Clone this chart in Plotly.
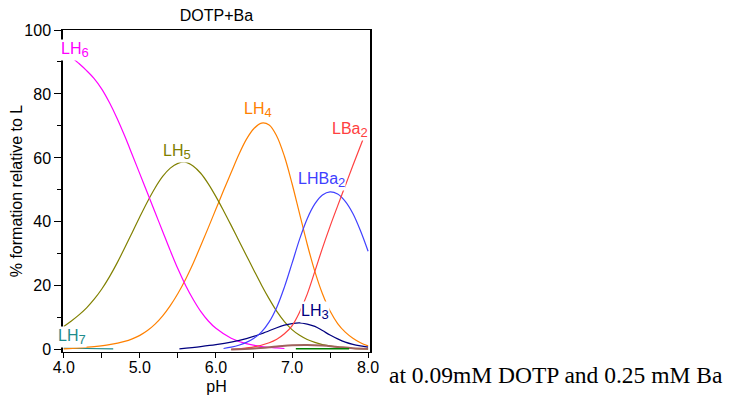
import plotly.graph_objects as go

# ---- data ----
LH6_pH = [4.0, 4.1, 4.2, 4.3, 4.4, 4.5, 4.6, 4.7, 4.8, 4.9, 5.0, 5.1, 5.2, 5.3, 5.4, 5.5, 5.6, 5.7, 5.8, 5.9, 6.0, 6.2, 6.4, 6.6, 6.8, 6.9]
LH6 = [93.0, 91.5, 89.5, 87.3, 84.8, 81.5, 77.3, 72.4, 66.9, 61.0, 55.0, 49.0, 43.0, 37.0, 31.0, 25.3, 20.2, 15.8, 12.0, 9.0, 6.7, 3.6, 1.9, 1.0, 0.6, 0.4]

LH5_pH = [4.0, 4.1, 4.2, 4.3, 4.4, 4.5, 4.6, 4.7, 4.8, 4.9, 5.0, 5.1, 5.2, 5.3, 5.4, 5.5, 5.6, 5.7, 5.8, 5.9, 6.0, 6.1, 6.2, 6.3, 6.4, 6.5, 6.6, 6.7, 6.8, 6.9, 7.0, 7.1, 7.2, 7.3, 7.4, 7.6, 7.8, 8.0]
LH5 = [7.3, 9.0, 10.9, 13.1, 15.8, 19.0, 22.8, 27.1, 31.8, 36.7, 41.6, 46.3, 50.6, 54.2, 56.8, 58.3, 58.7, 57.5, 55.2, 51.9, 47.9, 43.5, 38.9, 34.2, 29.5, 24.8, 20.2, 15.9, 12.0, 8.8, 6.3, 4.5, 3.2, 2.3, 1.6, 0.8, 0.4, 0.2]

LH4_pH = [4.0, 4.2, 4.4, 4.6, 4.8, 4.9, 5.0, 5.1, 5.2, 5.3, 5.4, 5.5, 5.6, 5.7, 5.8, 5.9, 6.0, 6.1, 6.2, 6.3, 6.4, 6.5, 6.6, 6.7, 6.8, 6.9, 7.0, 7.1, 7.2, 7.3, 7.4, 7.5, 7.6, 7.7, 7.8, 7.9, 8.0]
LH4 = [0.3, 0.6, 1.0, 1.6, 2.6, 3.4, 4.5, 6.0, 8.0, 10.6, 13.8, 17.6, 22.0, 27.0, 32.5, 38.2, 44.0, 49.8, 55.4, 61.0, 65.8, 69.2, 70.9, 70.3, 66.8, 60.5, 52.0, 42.5, 33.0, 24.5, 17.5, 12.1, 8.2, 5.5, 3.6, 2.2, 1.2]

LHBa2_pH = [6.1, 6.2, 6.3, 6.4, 6.5, 6.6, 6.7, 6.8, 6.9, 7.0, 7.1, 7.2, 7.3, 7.4, 7.5, 7.6, 7.7, 7.8, 7.9, 8.0]
LHBa2 = [0.4, 0.8, 1.4, 2.3, 3.6, 5.6, 8.7, 13.3, 19.6, 27.0, 34.6, 41.0, 45.6, 48.4, 49.4, 48.7, 46.4, 42.6, 37.2, 30.8]

LBa2_pH = [6.2, 6.3, 6.5, 6.7, 6.8, 6.9, 7.0, 7.1, 7.2, 7.3, 7.4, 7.5, 7.6, 7.7, 7.8, 7.93]
LBa2 = [0.1, 0.3, 0.9, 2.2, 3.3, 5.0, 7.5, 11.8, 17.4, 24.5, 31.8, 38.6, 45.0, 51.3, 57.6, 65.6]

LH3_pH = [5.52, 5.8, 6.0, 6.2, 6.4, 6.6, 6.8, 6.9, 7.0, 7.1, 7.2, 7.3, 7.4, 7.5, 7.6, 7.7, 7.8, 7.9, 8.0]
LH3 = [0.3, 1.0, 1.6, 2.4, 3.5, 5.0, 6.9, 7.7, 8.2, 8.4, 8.0, 7.3, 6.0, 4.6, 3.4, 2.4, 1.7, 1.2, 0.8]

LH7_pH = [4.0, 4.3, 4.65]
LH7 = [0.5, 0.4, 0.3]

minor_brown_pH = [6.2, 6.5, 6.8, 7.0, 7.2, 7.4, 7.6, 7.8, 8.0]
minor_brown = [0.1, 0.4, 1.0, 1.4, 1.5, 1.3, 0.9, 0.5, 0.3]

minor_green_pH = [7.05, 7.4, 7.75]
minor_green = [0.3, 0.3, 0.3]

x_ticks = [4.0, 5.0, 6.0, 7.0, 8.0]
x_tick_text = ["4.0", "5.0", "6.0", "7.0", "8.0"]
y_ticks = [0, 20, 40, 60, 80, 100]

series = [
    ("LH7", LH7_pH, LH7, "#1E8C8C", 1.2),
    ("LH4", LH4_pH, LH4, "#FF8000", 1.2),
    ("LH5", LH5_pH, LH5, "#808000", 1.2),
    ("LH6", LH6_pH, LH6, "#FF00FF", 1.2),
    ("LH3", LH3_pH, LH3, "#00007F", 1.2),
    ("LHBa2", LHBa2_pH, LHBa2, "#4040FF", 1.2),
    ("LBa2", LBa2_pH, LBa2, "#FF4040", 1.2),
    ("brown", minor_brown_pH, minor_brown, "#A0625C", 2.0),
    ("green", minor_green_pH, minor_green, "#008000", 1.5),
]

FONT = "Arial, Liberation Sans, sans-serif"

# page body has an 8px default margin; figure is sized so it fits the 731x410 window
W, H = 723, 402

fig = go.Figure()
for name, xs, ys, col, w in series:
    fig.add_trace(go.Scatter(x=xs, y=ys, mode="lines", name=name,
                             line=dict(color=col, width=w, shape="spline", smoothing=1.0),
                             showlegend=False, hoverinfo="skip"))


def lab(base, sub):
    return base + "<sub><span style='font-size:13px'>" + sub + "</span></sub>"


labels = [
    (lab("LH", "6"), 4.147, 93.9, "#FF00FF"),
    (lab("LH", "5"), 5.494, 61.8, "#808000"),
    (lab("LH", "4"), 6.552, 74.9, "#FF8000"),
    (lab("LBa", "2"), 7.767, 68.7, "#FF4040"),
    (lab("LHBa", "2"), 7.384, 53.0, "#4040FF"),
    (lab("LH", "3"), 7.307, 11.8, "#00007F"),
    (lab("LH", "7"), 4.108, 3.97, "#1E8C8C"),
]
for txt, x, y, col in labels:
    fig.add_annotation(x=x, y=y, xref="x", yref="y", text=txt, showarrow=False,
                       font=dict(family=FONT, size=16, color=col),
                       bgcolor="white", borderpad=0, xanchor="center", yanchor="middle")

fig.add_annotation(x=1.606, y=-0.0714, xref="paper", yref="paper",
                   text="at 0.09mM DOTP and 0.25 mM Ba", showarrow=False,
                   font=dict(family="Liberation Serif, Times New Roman, serif", size=23.5, color="black"),
                   xanchor="center", yanchor="middle")

fig.update_layout(
    width=W, height=H,
    margin=dict(l=55, r=361, t=22, b=58),
    paper_bgcolor="white", plot_bgcolor="white",
    font=dict(family=FONT, size=16, color="black"),
    title=dict(text="DOTP+Ba", x=(55 + 362) / 2 / W, xanchor="center", y=1 - 7 / H, yanchor="middle",
               font=dict(family=FONT, size=16, color="black")),
)
fig.update_xaxes(range=[3.99, 8.025], tickvals=x_ticks, ticktext=x_tick_text, automargin=False,
                 showgrid=False, zeroline=False, showline=True, linecolor="black", linewidth=1,
                 mirror=True, ticks="outside", ticklen=5, tickcolor="black", ticklabelstandoff=-4,
                 minor=dict(dtick=0.5, ticks="outside", ticklen=5, tickcolor="black"),
                 title=dict(text="pH", standoff=5, font=dict(size=16)))
fig.update_yaxes(range=[-0.7, 100], tickvals=y_ticks, automargin=False,
                 showgrid=False, zeroline=False, showline=True, linecolor="black", linewidth=1.5,
                 mirror=True, ticks="outside", ticklen=7, tickcolor="black",
                 minor=dict(dtick=10, ticks="outside", ticklen=4, tickcolor="black"),
                 title=dict(text="% formation relative to L", standoff=6, font=dict(size=16)))

fig.write_html("out.html")
